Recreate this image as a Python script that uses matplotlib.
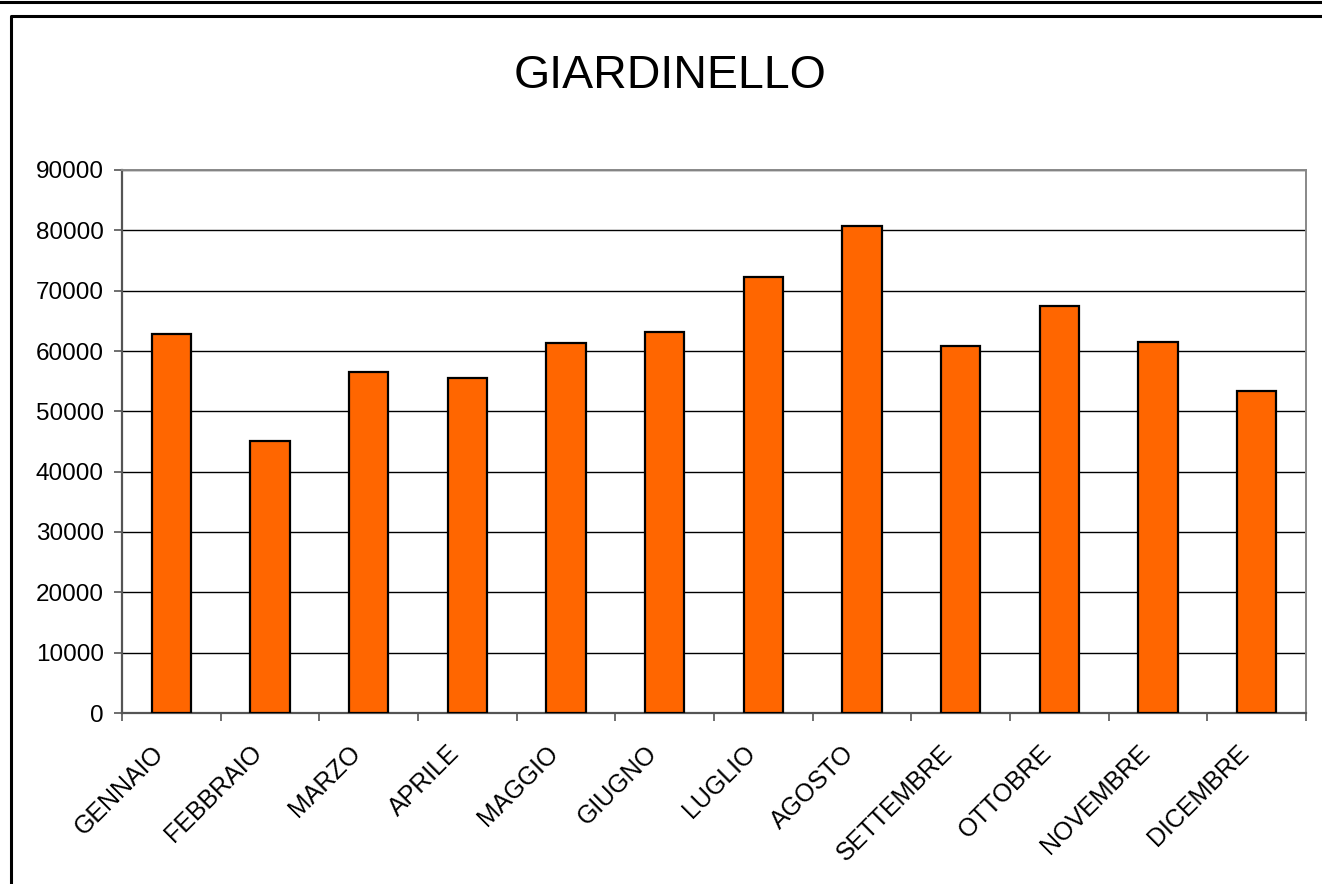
import matplotlib.pyplot as plt
from matplotlib.lines import Line2D
from matplotlib.transforms import ScaledTranslation
import numpy as np

plt.rcParams['font.family'] = ['Liberation Sans', 'DejaVu Sans']

months = ["GENNAIO", "FEBBRAIO", "MARZO", "APRILE", "MAGGIO", "GIUGNO",
          "LUGLIO", "AGOSTO", "SETTEMBRE", "OTTOBRE", "NOVEMBRE", "DICEMBRE"]
values = [62800, 45100, 56500, 55500, 61400, 63100,
          72200, 80800, 60900, 67500, 61500, 53300]
yticks = [0, 10000, 20000, 30000, 40000, 50000, 60000, 70000, 80000, 90000]

fig = plt.figure(figsize=(13.22, 8.84), dpi=100)

# outer frame lines (chart area border as in the screenshot)
fig.add_artist(Line2D([0, 1], [1 - 2/884, 1 - 2/884], color='black', lw=2.2,
                      transform=fig.transFigure))
fig.add_artist(Line2D([11/1322, 11/1322, 1], [0, 1 - 16/884, 1 - 16/884],
                      color='black', lw=2.2, transform=fig.transFigure))

ax = fig.add_axes([122/1322, 1 - 713/884, (1306 - 122)/1322, (713 - 170)/884])

x = np.arange(len(months))
ax.bar(x, values, width=0.4, color='#FF6600', edgecolor='black', linewidth=1.6,
       zorder=3)

ax.set_xlim(-0.5, len(months) - 0.5)
ax.set_ylim(0, 90000)
ax.set_yticks(yticks)
ax.set_yticklabels([str(v) for v in yticks], fontsize=17.5)
ax.yaxis.grid(True, color='black', linewidth=1.0, zorder=0)

# category ticks at the boundaries, labels at the centres
ax.set_xticks(np.arange(len(months) + 1) - 0.5)
ax.set_xticklabels([])
ax.set_xticks(x, minor=True)
ax.set_xticklabels(months, minor=True, rotation=45, ha='right', va='top',
                   rotation_mode='anchor', fontsize=18)
ax.tick_params(axis='x', which='minor', length=0, pad=20)
ax.tick_params(axis='x', which='major', length=6, width=1.2, direction='out',
               color='#555555')
ax.tick_params(axis='y', length=6, width=1.2, direction='out', pad=7,
               color='#555555')

shift = ScaledTranslation(-20/100, 0, fig.dpi_scale_trans)
for lab in ax.get_xticklabels(minor=True):
    lab.set_transform(lab.get_transform() + shift)

for side in ['left', 'bottom']:
    ax.spines[side].set_color('#555555')
    ax.spines[side].set_linewidth(1.6)
for side in ['right', 'top']:
    ax.spines[side].set_color('#888888')
    ax.spines[side].set_linewidth(1.4)

fig.text(670/1322, 1 - 76/884, "GIARDINELLO", fontsize=33.5, ha='center',
         va='center')

plt.savefig('out.png', dpi=100)
